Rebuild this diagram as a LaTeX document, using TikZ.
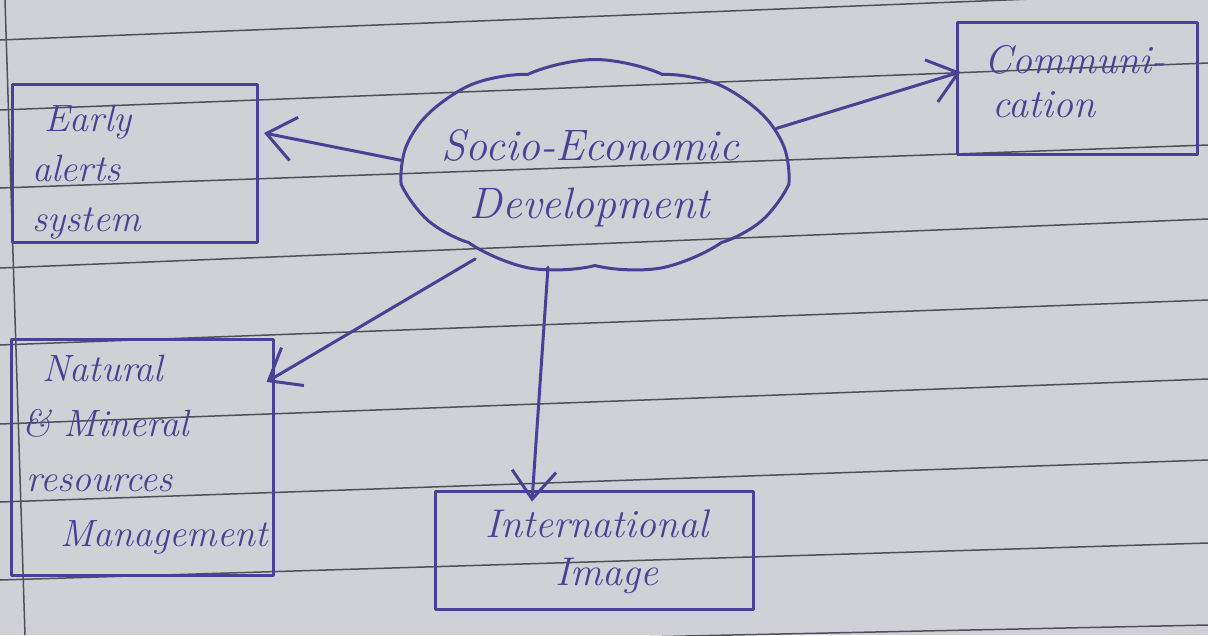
\documentclass[tikz,border=0pt]{standalone}
\usetikzlibrary{shapes.symbols,arrows.meta}
\definecolor{paper}{RGB}{208,208,215}
\definecolor{ink}{RGB}{72,66,150}
\definecolor{rule}{RGB}{80,80,90}
\tikzset{
  ink/.style={draw=ink, line width=3pt, line join=round, line cap=round},
  box/.style={ink, rectangle, inner sep=0pt},
  txt/.style={text=ink, align=left, inner sep=0pt, font=\fontsize{38}{50}\selectfont\itshape},
  arr/.style={draw=ink, line width=3pt, line cap=round, -{Straight Barb[length=28pt,width=44pt,line width=3pt]}},
  paperline/.style={draw=rule, line width=1.5pt}
}
\begin{document}
\begin{tikzpicture}[x=1pt,y=-1pt]
\useasboundingbox (0,0) rectangle (1208,635);
\fill[paper] (0,0) rectangle (1208,635);
% lined paper
\draw[paperline] (0,40) -- (1208,-8);
\draw[paperline] (0,110) -- (1208,63);
\draw[paperline] (0,188) -- (1208,145);
\draw[paperline] (0,268) -- (1208,219);
\draw[paperline] (0,345) -- (1208,300);
\draw[paperline] (0,424) -- (1208,379);
\draw[paperline] (0,502) -- (1208,460);
\draw[paperline] (0,580) -- (1208,543);
\draw[paperline] (400,642) -- (1208,625);
\draw[paperline] (5,0) -- (25,635);
% nodes
\node[ink, cloud, cloud puffs=9, cloud puff arc=50, aspect=1.9, minimum width=385pt, minimum height=215pt, inner sep=0pt] (soc) at (595,167) {};
\node[txt, align=center, font=\fontsize{44}{58}\selectfont\itshape] (soct) at (590,178) {Socio-Economic\\Development};
\node[box, minimum width=245pt, minimum height=158pt] (early) at (135,163) {};
\node[txt, anchor=north west] (earlyt) at (32,105) {\hspace*{12pt}Early\\alerts\\system};
\node[box, minimum width=240pt, minimum height=132pt] (comm) at (1077,88) {};
\node[txt, anchor=north west, font=\fontsize{40}{44}\selectfont\itshape] (commt) at (980,45) {\hspace*{4pt}Communi-\\\hspace*{12pt}cation};
\node[box, minimum width=262pt, minimum height=236pt] (nat) at (142,457) {};
\node[txt, anchor=north west, font=\fontsize{38}{55}\selectfont\itshape] (natt) at (22,355) {\hspace*{20pt}Natural\\\& Mineral\\\hspace*{4pt}resources\\\hspace*{38pt}Management};
\node[box, minimum width=318pt, minimum height=118pt] (intl) at (594,550) {};
\node[txt, align=center, font=\fontsize{40}{48}\selectfont\itshape] (intlt) at (597,552) {International\\\hspace*{20pt}Image};
% connectors
\draw[arr] (soc.178) -- ([xshift=5pt,yshift=30pt]early.east);
\draw[arr] (soc.12) -- ([xshift=5pt,yshift=16pt]comm.west);
\draw[arr, shorten <=10pt] (soc.218) -- ([xshift=-8pt,yshift=75pt]nat.east);
\draw[arr] ([xshift=-47pt]soc.south) -- ([xshift=-62pt,yshift=-12pt]intl.north);
\end{tikzpicture}
\end{document}
